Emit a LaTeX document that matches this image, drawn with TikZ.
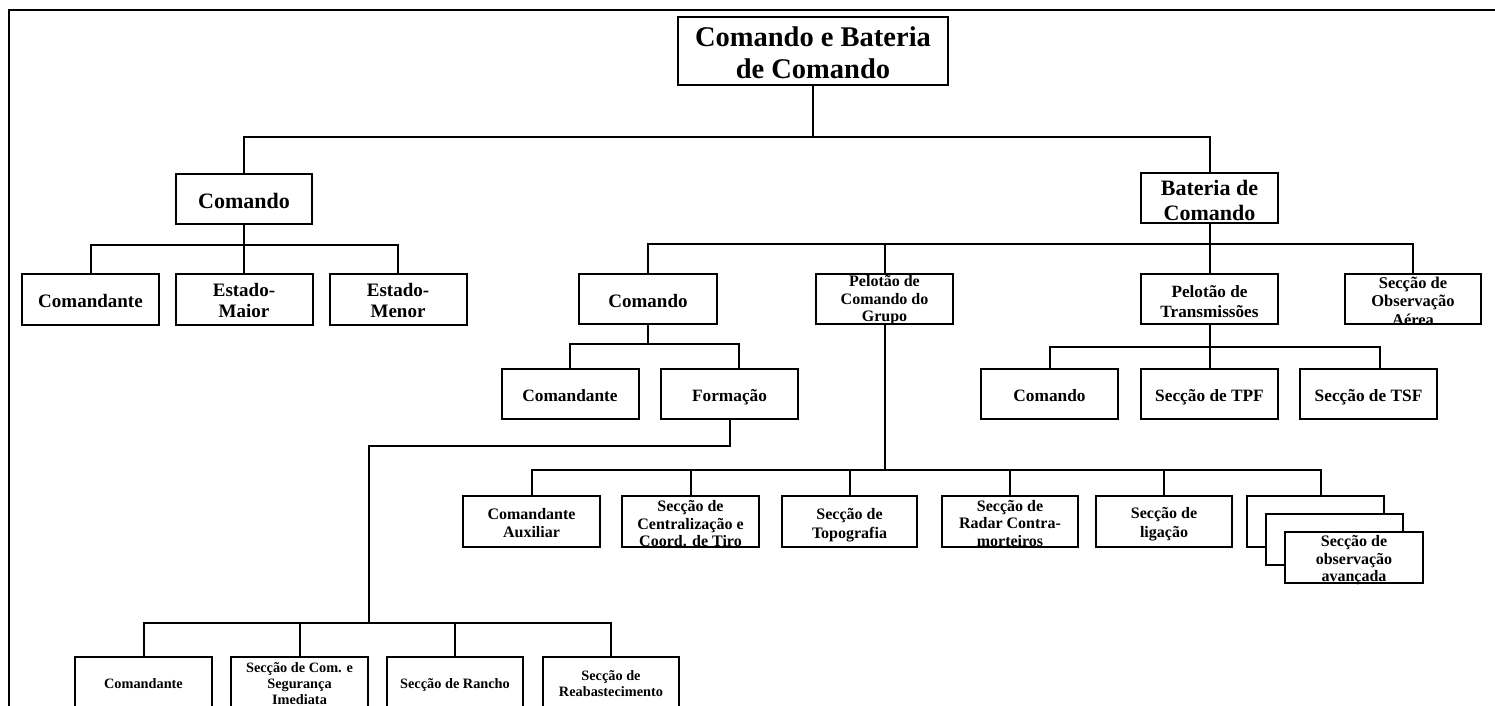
\documentclass[tikz,border=0pt]{standalone}
\usepackage{fontspec}
\setmainfont{Liberation Serif}
\newcommand\myfs[2]{\fontsize{#1}{#2}\selectfont\bfseries}
\newcommand\topstrut{\rule{0pt}{\dimexpr0.91em+3.5pt\relax}}
\newcommand\botstrut{\rule[-0.25em]{0pt}{0pt}}
\begin{document}
\begin{tikzpicture}[x=1pt,y=-1pt,
  box/.style={draw, line width=2pt, fill=white, inner sep=0pt, align=center,
              minimum width=137pt, minimum height=50pt},
  tx/.style 2 args={font=\myfs{#1}{#2}, inner sep=0pt, align=center,
              execute at begin node={\myfs{#1}{#2}\topstrut},
              execute at end node=\botstrut},
  link/.style={line width=2pt},
  frame/.style={line width=2pt}]
\useasboundingbox (0,0) rectangle (1495,706);
\draw[frame] (9,706) -- (9,10) -- (1495,10);

% level 0
\node[box, minimum width=270pt, minimum height=68pt] (title) at (813,51) {};
\node[tx={28.5}{32}, yshift=-5pt] (title-t) at (title) {Comando e Bateria\\de Comando};

% level 1
\node[box, minimum width=136pt, tx={22}{25}] (cmdL) at (244,199) {Comando};
\node[box] (bat) at (1209.5,198) {};
\node[tx={22}{25}, yshift=-5pt] (bat-t) at (bat) {Bateria de\\Comando};

% row A
\node[box, minimum height=51pt, tx={19}{21}] (comdA) at (90.5,299.5) {Comandante};
\node[box, minimum height=51pt] (emaior) at (244,299.5) {};
\node[tx={19}{21}, yshift=-3pt] (emaior-t) at (emaior) {Estado-\\Maior};
\node[box, minimum height=51pt] (emenor) at (398,299.5) {};
\node[tx={19}{21}, yshift=-3pt] (emenor-t) at (emenor) {Estado-\\Menor};

% row B
\node[box, minimum width=138pt, tx={19}{21}] (cmdM) at (648,299) {Comando};
\node[box] (pcg) at (884.5,299) {};
\node[tx={16}{17.5}, yshift=-1.5pt] (pcg-t) at (pcg) {Pelotão de\\Comando do\\Grupo};
\node[box] (ptx) at (1209.5,299) {};
\node[tx={17.2}{20}, yshift=-5pt] (ptx-t) at (ptx) {Pelotão de\\Transmissões};
\node[box, minimum width=136pt] (soa) at (1413,299) {};
\node[tx={16.5}{18.5}, yshift=-4pt] (soa-t) at (soa) {Secção de\\Observação\\Aérea};

% row C
\node[box, tx={17.3}{20}] (comdC) at (570,394) {Comandante};
\node[box, tx={17.3}{20}] (form) at (729.5,394) {Formação};
\node[box, tx={17.3}{20}] (tcmd) at (1049.5,394) {Comando};
\node[box, tx={17.3}{20}] (tpf) at (1209.5,394) {Secção de TPF};
\node[box, tx={17.3}{20}] (tsf) at (1368.5,394) {Secção de TSF};

% row D
\node[box, minimum height=51pt] (caux) at (531.5,521.5) {};
\node[tx={16}{18.5}, yshift=-3.5pt] (caux-t) at (caux) {Comandante\\Auxiliar};
\node[box, minimum height=51pt] (scent) at (690.5,521.5) {};
\node[tx={16}{17.5}, yshift=-4pt] (scent-t) at (scent) {Secção de\\Centralização e\\Coord. de Tiro};
\node[box, minimum width=135pt, minimum height=51pt] (stopo) at (849.5,521.5) {};
\node[tx={16}{18.5}, yshift=-4pt] (stopo-t) at (stopo) {Secção de\\Topografia};
\node[box, minimum width=136pt, minimum height=51pt] (sradar) at (1010,521.5) {};
\node[tx={16}{17.5}, yshift=-3.5pt] (sradar-t) at (sradar) {Secção de\\Radar Contra-\\morteiros};
\node[box, minimum width=136pt, minimum height=51pt] (slig) at (1164,521.5) {};
\node[tx={16}{18.5}, yshift=-3pt] (slig-t) at (slig) {Secção de\\ligação};
\node[box, minimum height=51pt] (sobs1) at (1315.5,521.5) {};
\node[box, minimum height=51pt] (sobs2) at (1334.5,539.5) {};
\node[box, minimum width=138pt, minimum height=51pt] (sobs3) at (1354,557.5) {};
\node[tx={16}{17.5}, yshift=-3pt] (sobs3-t) at (sobs3) {Secção de\\observação\\avançada};

% row E
\node[box, minimum height=51pt, tx={14.3}{16}] (ecomd) at (143.5,682.5) {Comandante};
\node[box, minimum height=51pt] (eseg) at (299.5,682.5) {};
\node[tx={14.3}{16}, yshift=-3pt] (eseg-t) at (eseg) {Secção de Com. e\\Segurança\\Imediata};
\node[box, minimum width=136pt, minimum height=51pt, tx={14.3}{16}] (erancho) at (455,682.5) {Secção de Rancho};
\node[box, minimum width=136pt, minimum height=51pt] (ereab) at (611,682.5) {};
\node[tx={14.3}{16}, yshift=-2.5pt] (ereab-t) at (ereab) {Secção de\\Reabastecimento};

% bus coordinates
\coordinate (b1) at (811,137);
\coordinate (b2) at (244,245);
\coordinate (b3) at (1209.5,244);
\coordinate (f1) at (739,344);
\coordinate (t1) at (1380,347);
\coordinate (d1) at (1321,470);
\coordinate (fc) at (369,446);
\coordinate (e1) at (369,623);

% connectors
\draw[link] (title.south) -- (title.south |- b1);
\draw[link] (cmdL.north) |- (b1) -| (bat.north);

\draw[link] (cmdL.south) -- (cmdL.south |- b2);
\draw[link] (comdA.north) |- (b2) -| (emenor.north);
\draw[link] (emaior.north) -- (emaior.north |- b2);

\draw[link] (bat.south) -- (bat.south |- b3);
\draw[link] (cmdM.north) |- (b3) -| (soa.north);
\draw[link] (pcg.north) -- (pcg.north |- b3);
\draw[link] (ptx.north) -- (ptx.north |- b3);

\draw[link] (cmdM.south) -- (cmdM.south |- f1);
\draw[link] (comdC.north) |- (f1) -- (f1 |- form.north);

\draw[link] (ptx.south) -- (ptx.south |- t1);
\draw[link] (tcmd.north) |- (t1) -- (t1 |- tsf.north);
\draw[link] (tpf.north) -- (tpf.north |- t1);

\draw[link] (pcg.south) -- (pcg.south |- d1);
\draw[link] (caux.north) |- (d1) -- (d1 |- sobs1.north);
\draw[link] (scent.north) -- (scent.north |- d1);
\draw[link] (stopo.north) -- (stopo.north |- d1);
\draw[link] (sradar.north) -- (sradar.north |- d1);
\draw[link] (slig.north) -- (slig.north |- d1);

\draw[link] (form.south) |- (fc) -- (e1);
\draw[link] (ecomd.north) |- (e1) -| (ereab.north);
\draw[link] (eseg.north) -- (eseg.north |- e1);
\draw[link] (erancho.north) -- (erancho.north |- e1);
\end{tikzpicture}
\end{document}
